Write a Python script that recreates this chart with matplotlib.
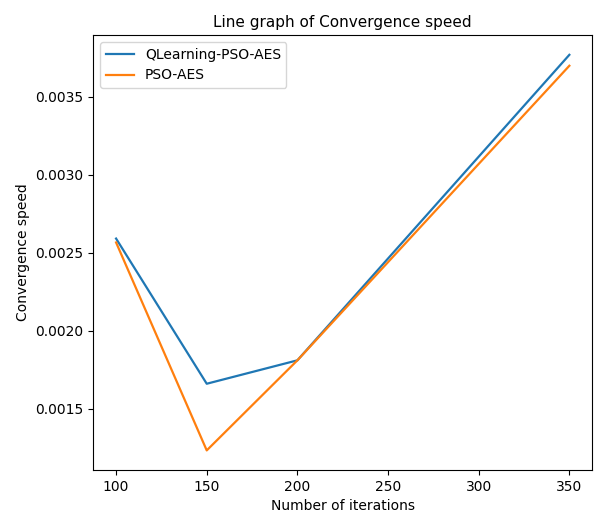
import matplotlib
matplotlib.use("Agg")
import matplotlib.pyplot as plt

iterations = [100, 150, 200, 350]
qlearning_pso_aes = [0.00259, 0.00166, 0.00181, 0.003767]
pso_aes = [0.002565, 0.001233, 0.00181, 0.003697]

fig = plt.figure(figsize=(5.95, 5.23), dpi=100)
ax = fig.add_axes([0.157, 0.101, 0.838, 0.832])

ax.plot(iterations, qlearning_pso_aes, color="#1f77b4", linewidth=1.6, label="QLearning-PSO-AES")
ax.plot(iterations, pso_aes, color="#ff7f0e", linewidth=1.6, label="PSO-AES")

ax.set_title("Line graph of Convergence speed", fontsize=11)
ax.set_xlabel("Number of iterations", fontsize=10)
ax.set_ylabel("Convergence speed", fontsize=10)
ax.set_yticks([0.0015, 0.0020, 0.0025, 0.0030, 0.0035])
ax.tick_params(labelsize=10)
ax.legend(loc="upper left", fontsize=10)

fig.savefig("out.png", dpi=100)
